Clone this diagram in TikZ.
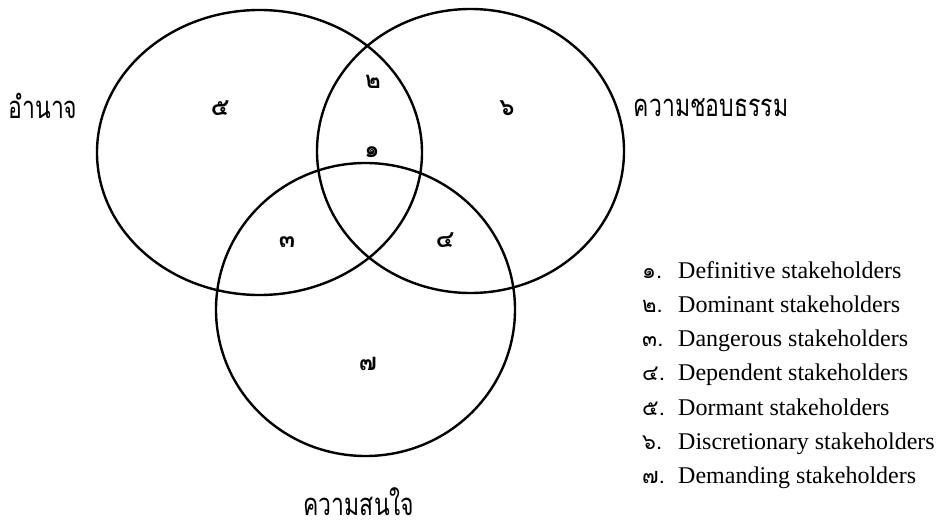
\documentclass[tikz,border=0pt]{standalone}
\usepackage{fontspec}
\setmainfont{Liberation Serif}
\newfontfamily\thaifont[Script=Thai]{Loma}
\usetikzlibrary{shapes.geometric}
\newcommand{\tallthai}[1]{\scalebox{1}[1.35]{#1}}
\begin{document}
\begin{tikzpicture}[x=1pt,y=-1pt,
  setring/.style={ellipse, draw, line width=2.4pt, inner sep=0pt},
  setname/.style={font=\thaifont\fontsize{23}{26}\selectfont, inner sep=0pt},
  regionnum/.style={font=\thaifont\bfseries\fontsize{24}{26}\selectfont, inner sep=0pt},
  legenddigit/.style={font=\thaifont\fontsize{22}{24}\selectfont, inner sep=0pt, anchor=base west},
  legendtext/.style={font=\fontsize{24}{26}\selectfont, inner sep=0pt, anchor=base west}]
\useasboundingbox (0,0) rectangle (945,530);
% circles
\node[setring, minimum width=325pt, minimum height=285pt] (power) at (259.5,152.5) {};
\node[setring, minimum width=307pt, minimum height=284pt] (legit) at (470.5,151) {};
\node[setring, minimum width=299pt, minimum height=293pt] (urgent) at (365.5,309.5) {};
% set names
\node[setname] (lpower) at (43,106) {\tallthai{อำนาจ}};
\node[setname] (llegit) at (711,108) {\tallthai{ความชอบธรรม}};
\node[setname] (lurgent) at (359,502) {\tallthai{ความสนใจ}};
% region numbers
\node[regionnum] (r5) at (220,108) {๕};
\node[regionnum] (r2) at (373,82) {๒};
\node[regionnum] (r1) at (372,152) {๑};
\node[regionnum] (r3) at (287,242) {๓};
\node[regionnum] (r4) at (445,240) {๔};
\node[regionnum] (r6) at (507,108) {๖};
\node[regionnum] (r7) at (368,364) {๗};
% legend
\foreach \d/\t [count=\i from 0] in {๑/Definitive stakeholders,๒/Dominant stakeholders,๓/Dangerous stakeholders,๔/Dependent stakeholders,๕/Dormant stakeholders,๖/Discretionary stakeholders,๗/Demanding stakeholders}{
  \node[legenddigit] (d\i) at (642,{278+34.3*\i}) {\d.};
  \node[legendtext] (t\i) at (678,{278+34.3*\i}) {\t};
}
\end{tikzpicture}
\end{document}
